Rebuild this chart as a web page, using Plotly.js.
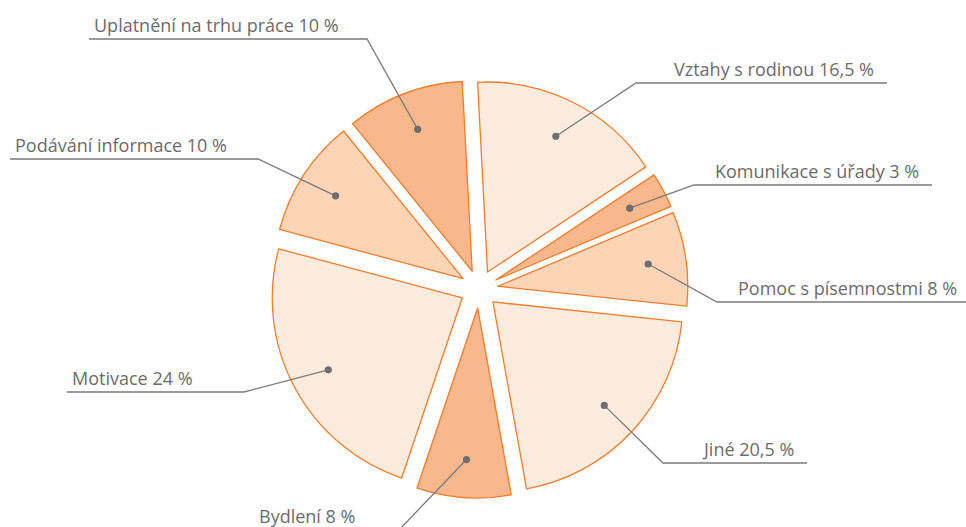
<!DOCTYPE html>
<html>
<head>
<meta charset="utf-8">
<script src="https://cdn.plot.ly/plotly-3.0.1.min.js"></script>
<style>html,body{margin:0;padding:0;background:#fff;}#chart{width:966px;height:527px;}</style>
</head>
<body>
<div id="chart"></div>
<script>
// ---- data ----
var categories = ["Vztahy s rodinou", "Komunikace s úřady", "Pomoc s písemnostmi", "Jiné", "Bydlení", "Motivace", "Podávání informace", "Uplatnění na trhu práce"];
var values = [16.5, 3, 8, 20.5, 8, 24, 10, 10];
var sliceColors = ["#fdebdd", "#f9b88b", "#fcd5b6", "#fdebdd", "#f9b88b", "#fdebdd", "#fcd5b6", "#f9b88b"];

// ---- layout config (pixel positions of label elbows / underline ends) ----
var W = 966, H = 527;
var pieCenter = [479, 289];
var pieBox = 418;
var pullFrac = 0.1;
var rotationDeg = -3;
var dotFrac = 0.8;
var labelElbowX = [636, 694, 717, 663, 399, 244, 258, 367];
var labelLineY  = [83, 185, 302, 463, 530, 392, 159, 39];
var labelEndX   = [887, 932, 970, 807, 254, 67, 10, 89];
var labelSide   = ["r", "r", "r", "r", "l", "l", "l", "l"];

var lineColor = "#7a7a7a";
var textColor = "#6b6b6b";

function px(x) { return x / W; }
function py(y) { return 1 - y / H; }

var r = pieBox / (2 + 2 * pullFrac);
var total = values.reduce(function (a, b) { return a + b; }, 0);
var shapes = [], annotations = [];
var cum = 0;
for (var i = 0; i < values.length; i++) {
  var mid = (rotationDeg + 360 * (cum + values[i] / 2) / total) * Math.PI / 180;
  cum += values[i];
  var d = r * pullFrac + r * dotFrac;
  var dx = pieCenter[0] + d * Math.sin(mid);
  var dy = pieCenter[1] - d * Math.cos(mid);
  var ex = labelElbowX[i], ey = labelLineY[i], fx = labelEndX[i];
  shapes.push({
    type: "path", xref: "paper", yref: "paper", layer: "above",
    path: "M" + px(dx) + "," + py(dy) + " L" + px(ex) + "," + py(ey) + " L" + px(fx) + "," + py(ey),
    line: { color: lineColor, width: 1.3 }
  });
  var cr = 3.6;
  shapes.push({
    type: "circle", xref: "paper", yref: "paper", layer: "above",
    x0: px(dx - cr), x1: px(dx + cr), y0: py(dy + cr), y1: py(dy - cr),
    fillcolor: "#6d6e71", line: { width: 0 }
  });
  var txt = categories[i] + " " + String(values[i]).replace(".", ",") + " %";
  var right = labelSide[i] === "r";
  annotations.push({
    xref: "paper", yref: "paper",
    x: right ? px(fx - 12) : px(fx + 4),
    y: py(ey - 1),
    xanchor: right ? "right" : "left",
    yanchor: "bottom",
    showarrow: false,
    borderpad: 0,
    text: txt,
    font: { family: "Open Sans, sans-serif", size: 18, color: textColor }
  });
}

var trace = {
  type: "pie",
  labels: categories,
  values: values,
  sort: false,
  direction: "clockwise",
  rotation: rotationDeg,
  pull: values.map(function () { return pullFrac; }),
  textinfo: "none",
  hoverinfo: "none",
  marker: { colors: sliceColors, line: { color: "#f07c2c", width: 1.3 } },
  domain: {
    x: [px(pieCenter[0] - pieBox / 2), px(pieCenter[0] + pieBox / 2)],
    y: [py(pieCenter[1] + pieBox / 2), py(pieCenter[1] - pieBox / 2)]
  },
  showlegend: false
};

var layout = {
  width: W, height: H,
  margin: { l: 0, r: 0, t: 0, b: 0 },
  paper_bgcolor: "#ffffff",
  showlegend: false,
  shapes: shapes,
  annotations: annotations
};

Plotly.newPlot("chart", [trace], layout, { staticPlot: true, displayModeBar: false });
</script>
</body>
</html>
